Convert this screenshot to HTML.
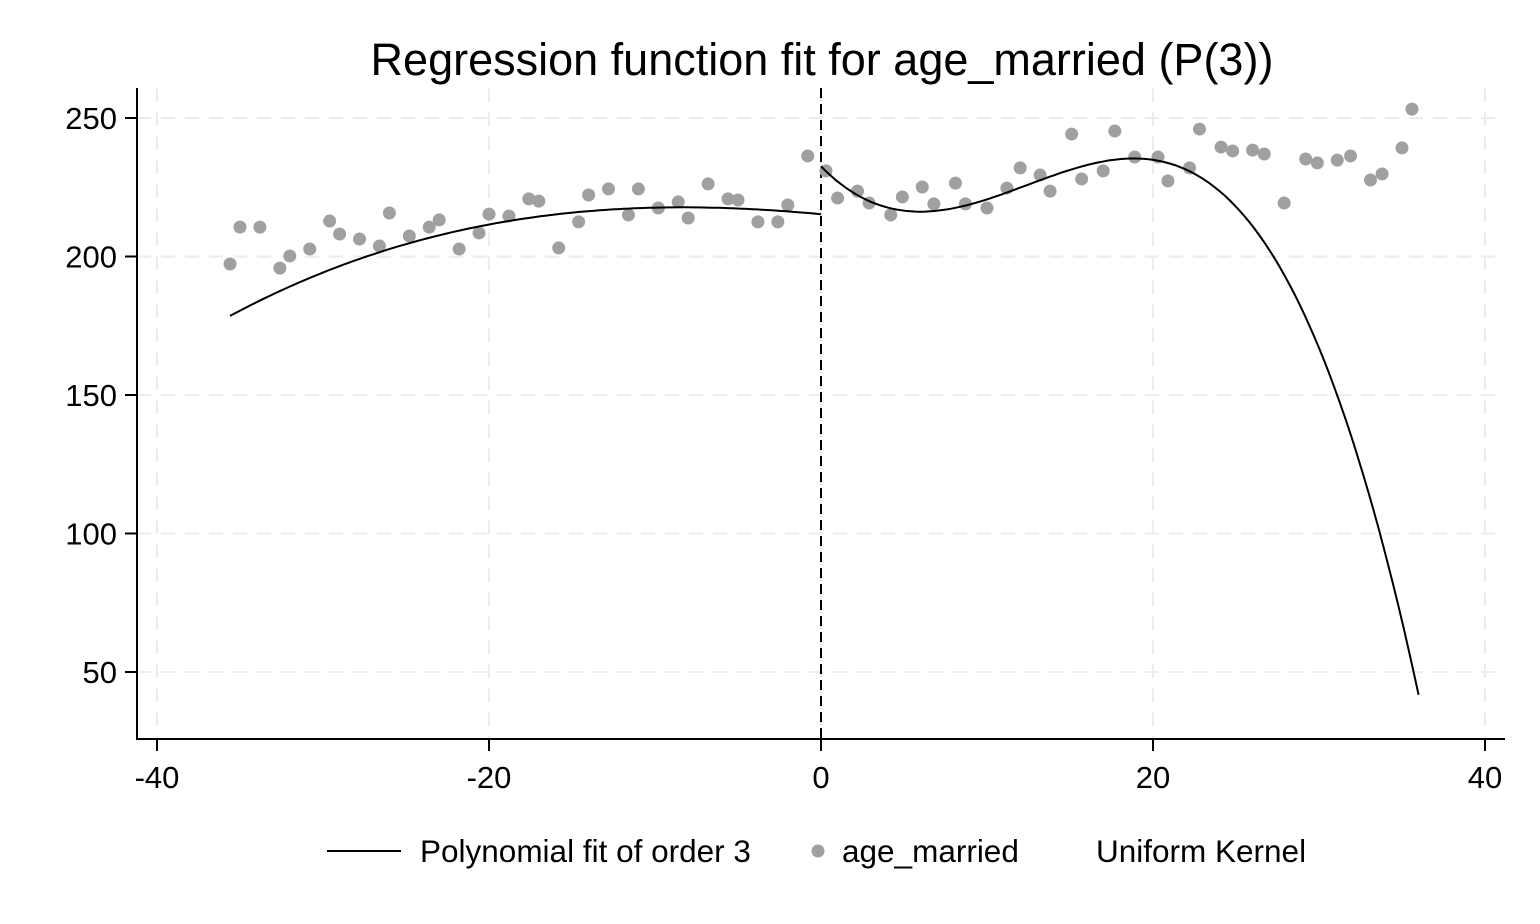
<!DOCTYPE html>
<html><head><meta charset="utf-8"><style>
body{margin:0;background:#fff;}
svg{display:block;font-family:"Liberation Sans",Arial,sans-serif;}
</style></head><body>
<svg id="chart" width="1540" height="924" viewBox="0 0 1540 924">
<rect width="1540" height="924" fill="#fff"/>
<text x="822" y="75" font-size="45" text-anchor="middle">Regression function fit for age_married (P(3))</text>
<g id="grid"></g><g id="axes"></g><g id="marks"></g>
<g>
<line x1="327" y1="851" x2="401" y2="851" stroke="#000" stroke-width="2"/>
<text x="420" y="862" font-size="31.5">Polynomial fit of order 3</text>
<circle cx="818" cy="851" r="6.5" fill="#a0a0a0"/>
<text x="842" y="862" font-size="31.5">age_married</text>
<text x="1096" y="862" font-size="31.5">Uniform Kernel</text>
</g>
</svg>
<script>
const xTicks=[-40,-20,0,20,40];
const yTicks=[50,100,150,200,250];
const binX=[-35.6,-35.0,-33.8,-32.6,-32.0,-30.8,-29.6,-29.0,-27.8,-26.6,-26.0,-24.8,-23.6,-23.0,-21.8,-20.6,-20.0,-18.8,-17.6,-17.0,-15.8,-14.6,-14.0,-12.8,-11.6,-11.0,-9.8,-8.6,-8.0,-6.8,-5.6,-5.0,-3.8,-2.6,-2.0,-0.8,
0.3,1.0,2.2,2.9,4.2,4.9,6.1,6.8,8.1,8.7,10.0,11.2,12.0,13.2,13.8,15.1,15.7,17.0,17.7,18.9,20.3,20.9,22.2,22.8,24.1,24.8,26.0,26.7,27.9,29.2,29.9,31.1,31.9,33.1,33.8,35.0,35.6];
const binY=[197.3,210.6,210.6,195.8,200.2,202.7,212.8,208.1,206.3,203.8,215.7,207.4,210.6,213.2,202.7,208.5,215.3,214.6,220.8,220,203.1,212.5,222.2,224.4,215,224.4,217.5,219.7,213.9,226.2,220.8,220.4,212.5,212.5,218.6,236.3,
230.9,221.1,223.6,219.3,215,221.5,225.1,219,226.5,219,217.5,224.7,232,229.4,223.6,244.2,228,230.9,245.3,235.9,235.9,227.3,232,246,239.5,238.1,238.4,237,219.3,235.2,233.8,234.8,236.3,227.6,229.8,239.2,253.2];
const fitLeftX=[-35.6,-30,-25,-20,-15,-10,-5,0];
const fitLeftY=[179,193,205,212,216,217.3,217,215.5];
const fitRightX=[0,2,5,8,12,16,18,20,24,25.5,27,28.5,30,31.5,33,34.5,36];
const fitRightY=[230.1,223,218.2,220.4,226.5,232.7,234.1,232.3,218.6,211,202.3,188,170,148,123,79.6,33.8];
const NS='http://www.w3.org/2000/svg';
const X0=137,X1=1505,Y0=88,Y1=739;
const sx=v=>821+(v)*16.6;
const sy=v=>118+(250-v)*2.77;
function mk(t,a,p){const e=document.createElementNS(NS,t);for(const k in a)e.setAttribute(k,a[k]);p.appendChild(e);return e;}
const grid=document.getElementById('grid'),axes=document.getElementById('axes'),marks=document.getElementById('marks');
xTicks.forEach(t=>{
 const g=mk('line',{x1:sx(t),x2:sx(t),y1:Y0,y2:Y1,stroke:'#ececec','stroke-width':2,'stroke-dasharray':'14 10'},grid);
 
 
 const tk=mk('line',{x1:sx(t),x2:sx(t),y1:Y1,y2:Y1+12,stroke:'#000','stroke-width':2},axes);
 
 
 const l=mk('text',{x:sx(t),y:788,'font-size':31,'text-anchor':'middle'},axes);l.textContent=t;
 
 
});
yTicks.forEach(t=>{
 const g=mk('line',{x1:X0,x2:X1,y1:sy(t),y2:sy(t),stroke:'#ececec','stroke-width':2,'stroke-dasharray':'14 10'},grid);
 
 
 const tk=mk('line',{x1:X0-12,x2:X0,y1:sy(t),y2:sy(t),stroke:'#000','stroke-width':2},axes);
 
 
 const l=mk('text',{x:117,y:sy(t)+11,'font-size':31,'text-anchor':'end'},axes);l.textContent=t;
 
 
});
const ya=mk('line',{x1:X0,x2:X0,y1:Y0,y2:Y1+1,stroke:'#000','stroke-width':2},axes);


const xa=mk('line',{x1:X0,x2:X1,y1:Y1,y2:Y1,stroke:'#000','stroke-width':2},axes);


const cut=mk('line',{x1:sx(0),x2:sx(0),y1:Y0,y2:Y1,stroke:'#000','stroke-width':2,'stroke-dasharray':'10 6'},marks);


binX.forEach((x,i)=>{
 const c=mk('circle',{cx:sx(x),cy:sy(binY[i]),r:6.5,fill:'#a0a0a0'},marks);
 
 
});
// least-squares cubic through the read fit points
function cubicFit(xs,ys){
 const n=4,A=[...Array(n)].map(()=>Array(n+1).fill(0));
 xs.forEach((x,k)=>{for(let i=0;i<n;i++){for(let j=0;j<n;j++)A[i][j]+=Math.pow(x,i+j);A[i][n]+=ys[k]*Math.pow(x,i);}});
 for(let i=0;i<n;i++){let m=i;for(let r=i+1;r<n;r++)if(Math.abs(A[r][i])>Math.abs(A[m][i]))m=r;[A[i],A[m]]=[A[m],A[i]];
  for(let r=0;r<n;r++)if(r!==i){const f=A[r][i]/A[i][i];for(let c=i;c<=n;c++)A[r][c]-=f*A[i][c];}}
 return A.map((r,i)=>r[n]/r[i]);
}
function curve(xs,ys){
 const c=cubicFit(xs,ys),a=xs[0],b=xs[xs.length-1];let d='';
 for(let k=0;k<=120;k++){const x=a+(b-a)*k/120,y=c[0]+c[1]*x+c[2]*x*x+c[3]*x*x*x;d+=(k?'L':'M')+sx(x).toFixed(1)+','+sy(y).toFixed(1);}
 return d;
}
const fl=mk('path',{d:curve(fitLeftX,fitLeftY),fill:'none',stroke:'#000','stroke-width':2},marks);


const fr=mk('path',{d:curve(fitRightX,fitRightY),fill:'none',stroke:'#000','stroke-width':2},marks);


</script>
</body></html>
